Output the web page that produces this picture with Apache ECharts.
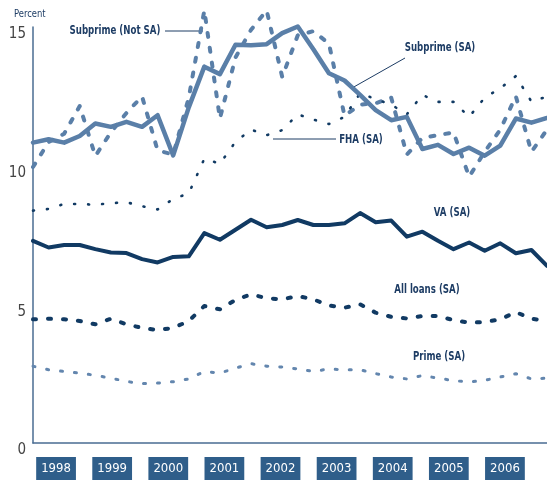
<!DOCTYPE html>
<html>
<head>
<meta charset="utf-8">
<script src="https://cdn.jsdelivr.net/npm/echarts@6/dist/echarts.min.js"></script>
<style>
  html, body { margin: 0; padding: 0; background: #fff; }
  #chart { width: 547px; height: 483px; }
</style>
</head>
<body>
<div id="chart"></div>
<script>
// quarterly, 1998Q1 - 2006Q2
const quarters = [
  '1998Q1', '1998Q2', '1998Q3', '1998Q4', '1999Q1', '1999Q2', '1999Q3', '1999Q4',
  '2000Q1', '2000Q2', '2000Q3', '2000Q4', '2001Q1', '2001Q2', '2001Q3', '2001Q4',
  '2002Q1', '2002Q2', '2002Q3', '2002Q4', '2003Q1', '2003Q2', '2003Q3', '2003Q4',
  '2004Q1', '2004Q2', '2004Q3', '2004Q4', '2005Q1', '2005Q2', '2005Q3', '2005Q4',
  '2006Q1', '2006Q2'
];
const years = ['1998', '1999', '2000', '2001', '2002', '2003', '2004', '2005', '2006'];
const yTicks = [0, 5, 10, 15];

const subprimeNotSA = [9.95, 10.85, 11.15, 12.15, 10.35, 11.2, 11.9, 12.5, 10.55, 10.4, 12.45, 15.6,
  11.7, 13.9, 14.9, 15.6, 13.2, 14.7, 14.85, 14.4, 11.8, 12.2, 12.25, 12.45,
  10.4, 11.0, 11.1, 11.2, 9.6, 10.5, 11.3, 12.5, 10.5, 11.3];
const subprimeSA = [10.83, 10.95, 10.83, 11.07, 11.52, 11.4, 11.58, 11.4, 11.82, 10.37, 12.1, 13.57,
  13.3, 14.36, 14.34, 14.38, 14.78, 15.02, 14.2, 13.33, 13.07, 12.55, 12.0, 11.64,
  11.76, 10.6, 10.75, 10.42, 10.65, 10.36, 10.72, 11.7, 11.55, 11.72];
const fha = [8.38, 8.44, 8.62, 8.62, 8.59, 8.65, 8.68, 8.54, 8.42, 8.8, 9.0, 10.25,
  10.07, 10.86, 11.3, 11.1, 11.28, 11.85, 11.66, 11.5, 11.76, 12.61, 12.4, 12.2,
  11.85, 12.55, 12.3, 12.3, 11.76, 12.45, 12.79, 13.23, 12.31, 12.49];
const va = [7.29, 7.05, 7.14, 7.14, 6.99, 6.87, 6.85, 6.63, 6.51, 6.71, 6.73, 7.57,
  7.33, 7.69, 8.05, 7.78, 7.86, 8.04, 7.86, 7.86, 7.92, 8.29, 7.96, 8.02,
  7.44, 7.62, 7.29, 6.99, 7.23, 6.93, 7.2, 6.84, 6.96, 6.39];
const allLoans = [4.46, 4.48, 4.46, 4.4, 4.28, 4.48, 4.28, 4.15, 4.07, 4.15, 4.4, 4.94,
  4.82, 5.16, 5.36, 5.22, 5.18, 5.3, 5.18, 4.96, 4.88, 5.0, 4.7, 4.55,
  4.49, 4.58, 4.58, 4.43, 4.34, 4.36, 4.46, 4.72, 4.48, 4.4];
const prime = [2.77, 2.64, 2.58, 2.52, 2.44, 2.34, 2.22, 2.14, 2.16, 2.21, 2.31, 2.58,
  2.52, 2.7, 2.86, 2.77, 2.74, 2.67, 2.58, 2.67, 2.64, 2.64, 2.5, 2.38,
  2.31, 2.43, 2.34, 2.25, 2.2, 2.26, 2.38, 2.5, 2.31, 2.34];

const steel = '#5a7fa8';
const navy = '#113a63';
const axisBlue = '#4a6c92';
const labelFont = '"DejaVu Sans Condensed", "Liberation Sans Narrow", sans-serif';

function lineSeries(name, data, color, width, type) {
  return {
    name: name,
    type: 'line',
    data: data,
    symbol: 'none',
    smooth: false,
    clip: false,
    lineStyle: { color: color, width: width, type: type, cap: 'round', join: 'round' },
    silent: true,
    z: 3
  };
}

// annotation text, squeezed horizontally to look like a condensed bold face
const noteText = (x, y, text) => ({
  type: 'text', x: x, y: y, scaleX: 0.8, scaleY: 1.05,
  style: { text: text, fill: '#1d3c64', font: 'bold 12px ' + labelFont, align: 'center', verticalAlign: 'middle' }
});
const noteLine = (x1, y1, x2, y2) => ({
  type: 'line', shape: { x1: x1, y1: y1, x2: x2, y2: y2 },
  style: { stroke: '#1d3c64', lineWidth: 1 }
});

const options = {
  animation: false,
  backgroundColor: '#fff',
  grid: [
    { left: 33, right: 0, top: 27, bottom: 40 },
    { left: 28, right: 14, top: 27, bottom: 40 }
  ],
  xAxis: [
    {
      type: 'category', gridIndex: 0, data: quarters, boundaryGap: false,
      axisLine: { lineStyle: { color: axisBlue, width: 1.5 } },
      axisTick: { show: false }, axisLabel: { show: false }
    },
    {
      type: 'category', gridIndex: 1, data: years, boundaryGap: true,
      axisLine: { show: false }, axisTick: { show: false },
      axisLabel: {
        color: '#fff', fontFamily: labelFont, fontSize: 13, margin: 14,
        backgroundColor: '#2f5e8a', padding: [5, 5, 5, 5]
      }
    }
  ],
  yAxis: [
    {
      type: 'value', gridIndex: 0, min: 0, max: 15, interval: 5,
      axisLine: { show: true, lineStyle: { color: axisBlue, width: 1.5 } },
      axisTick: { show: false }, splitLine: { show: false },
      axisLabel: {
        color: '#444', fontFamily: labelFont, fontSize: 15, margin: 7, verticalAlign: 'top',
        formatter: (v) => (yTicks.indexOf(v) >= 0 ? String(v) : '')
      }
    },
    { type: 'value', gridIndex: 1, show: false, min: 0, max: 15 }
  ],
  series: [
    lineSeries('Subprime (Not SA)', subprimeNotSA, steel, 4, [4, 11]),
    lineSeries('FHA (SA)', fha, navy, 2.6, [1, 13]),
    lineSeries('Subprime (SA)', subprimeSA, steel, 4.5, 'solid'),
    lineSeries('VA (SA)', va, navy, 4, 'solid'),
    lineSeries('All loans (SA)', allLoans, navy, 4, [3, 12]),
    lineSeries('Prime (SA)', prime, '#6386ae', 3, [2, 12])
  ],
  graphic: [
    { type: 'text', x: 14, y: 14, scaleX: 0.85, style: { text: 'Percent', fill: '#1d3c64', font: '11px ' + labelFont, verticalAlign: 'middle' } },
    noteText(115, 31, 'Subprime (Not SA)'),
    noteLine(165, 31, 203, 31),
    noteText(440, 48, 'Subprime (SA)'),
    noteLine(405, 58, 352, 88),
    noteText(361, 140, 'FHA (SA)'),
    noteLine(273, 139, 336, 139),
    noteText(452, 213, 'VA (SA)'),
    noteText(427, 290, 'All loans (SA)'),
    noteText(439, 357, 'Prime (SA)')
  ]
};

const chart = echarts.init(document.getElementById('chart'));
chart.setOption(options);
window.addEventListener('resize', () => {
  chart.resize();
});
</script>
</body>
</html>
